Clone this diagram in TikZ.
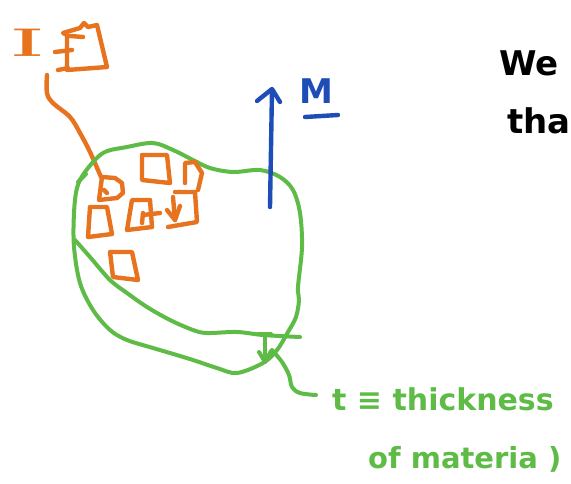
\documentclass[tikz,border=0pt]{standalone}
\usepackage{fontspec}
\setmainfont{DejaVu Sans}
\usetikzlibrary{arrows.meta}
\definecolor{penorange}{HTML}{E8731F}
\definecolor{penblue}{HTML}{1E4DB7}
\definecolor{pengreen}{HTML}{5DBB46}
\begin{document}
\begin{tikzpicture}[x=1pt,y=-1pt,line cap=round,line join=round,
  orangepen/.style={draw=penorange,line width=4.4pt},
  bluepen/.style={draw=penblue,line width=4.4pt},
  greenpen/.style={draw=pengreen,line width=4pt},
  bigtext/.style={inner sep=0pt,anchor=base west}]
\clip (0,0) rectangle (571,483);
\fill[white] (0,0) rectangle (571,483);

% ---- top-left label I and box
\node[bigtext,text=penorange,font={\fontspec{Latin Modern Roman}\bfseries\fontsize{40}{40}\selectfont}] (ilabel) at (12,56) {\scalebox{1.8}[1]{I}};
\draw[orangepen] (67,35) -- (63,33) -- (80,28) -- (84,23) -- (88,27) -- (97,25) -- (107,67) -- (67,70) -- cycle;
\draw[orangepen] (55,52) -- (72,50);
\draw[orangepen] (58,70) -- (68,68);
\draw[orangepen] (70,36) -- (83,37);
\draw[orangepen] plot[smooth,tension=0.6] coordinates {(47,75) (47,93) (53,103) (70,117) (80,133) (90,152) (101,177)};

% ---- green blob
\draw[greenpen] plot[smooth cycle,tension=0.55] coordinates {
 (85,172) (103,153) (127,147) (153,143) (173,150) (193,160) (210,168) (233,172)
 (260,170) (280,177) (293,190) (300,213) (302,247) (298,287) (299,300) (296,317)
 (288,332) (277,350) (263,363) (237,373) (217,368) (193,360) (170,353) (153,348)
 (127,340) (110,330) (93,310) (80,283) (74,247) (74,213) (77,188)};
\draw[greenpen] (78,182) -- (86,174);
\draw[greenpen] plot[smooth,tension=0.55] coordinates {(75,240) (90,257) (110,280) (127,293) (147,307) (170,320) (193,330) (207,333) (237,332) (263,335) (300,337)};
% thickness marker
\draw[greenpen] (265,334) -- (265,362);
\draw[greenpen] (258,334) -- (271,334);
\draw[greenpen] (259,352) -- (265,362) -- (271,351);
% leader
\draw[greenpen] plot[smooth,tension=0.6] coordinates {(272,350) (282,362) (289,375) (292,387) (300,393) (316,395)};

% ---- orange squares
\draw[orangepen] (102,177) -- (99,200) -- (117,198) -- (123,193) -- (122,183) -- (115,178) -- cycle;
\draw[orangepen] (104,190) -- (107,193);
\draw[orangepen] (142,155) -- (167,155) -- (170,183) -- (142,180) -- cycle;
\draw[orangepen] (185,183) -- (185,163) -- (195,162) -- (202,173) -- (198,190);
\draw[orangepen] (90,207) -- (107,207) -- (112,234) -- (88,237) -- cycle;
\draw[orangepen] (132,200) -- (150,200) -- (152,227) -- (127,230) -- cycle;
\draw[orangepen] (142,223) -- (143,213);
\draw[orangepen] (143,215) -- (160,213);
\draw[orangepen] (175,192) -- (195,192) -- (197,222) -- (168,227);
\draw[orangepen] (173,197) -- (175,220);
\draw[orangepen] (167,210) -- (175,220) -- (180,206);
\draw[orangepen] (110,252) -- (132,252) -- (138,280) -- (113,277) -- cycle;

% ---- blue arrow and M
\draw[bluepen] (270,207) -- (272,90);
\draw[bluepen] (257,101) -- (272,89) -- (280,102);
\node[bigtext,text=penblue,font=\bfseries\fontsize{34}{34}\selectfont] (mlabel) at (299,103) {M};
\draw[bluepen] (305,117) -- (338,115);

% ---- black text
\node[bigtext,font=\bfseries\fontsize{34}{34}\selectfont] (we) at (499,75) {We};
\node[bigtext,font=\bfseries\fontsize{34}{34}\selectfont] (tha) at (507,133) {tha};

% ---- green text
\node[bigtext,text=pengreen,font=\bfseries\fontsize{30}{30}\selectfont] (tdef) at (332,410) {t ≡ thickness};
\node[bigtext,text=pengreen,font=\bfseries\fontsize{29}{29}\selectfont] (mat) at (368,468) {of materia )};
\end{tikzpicture}
\end{document}
